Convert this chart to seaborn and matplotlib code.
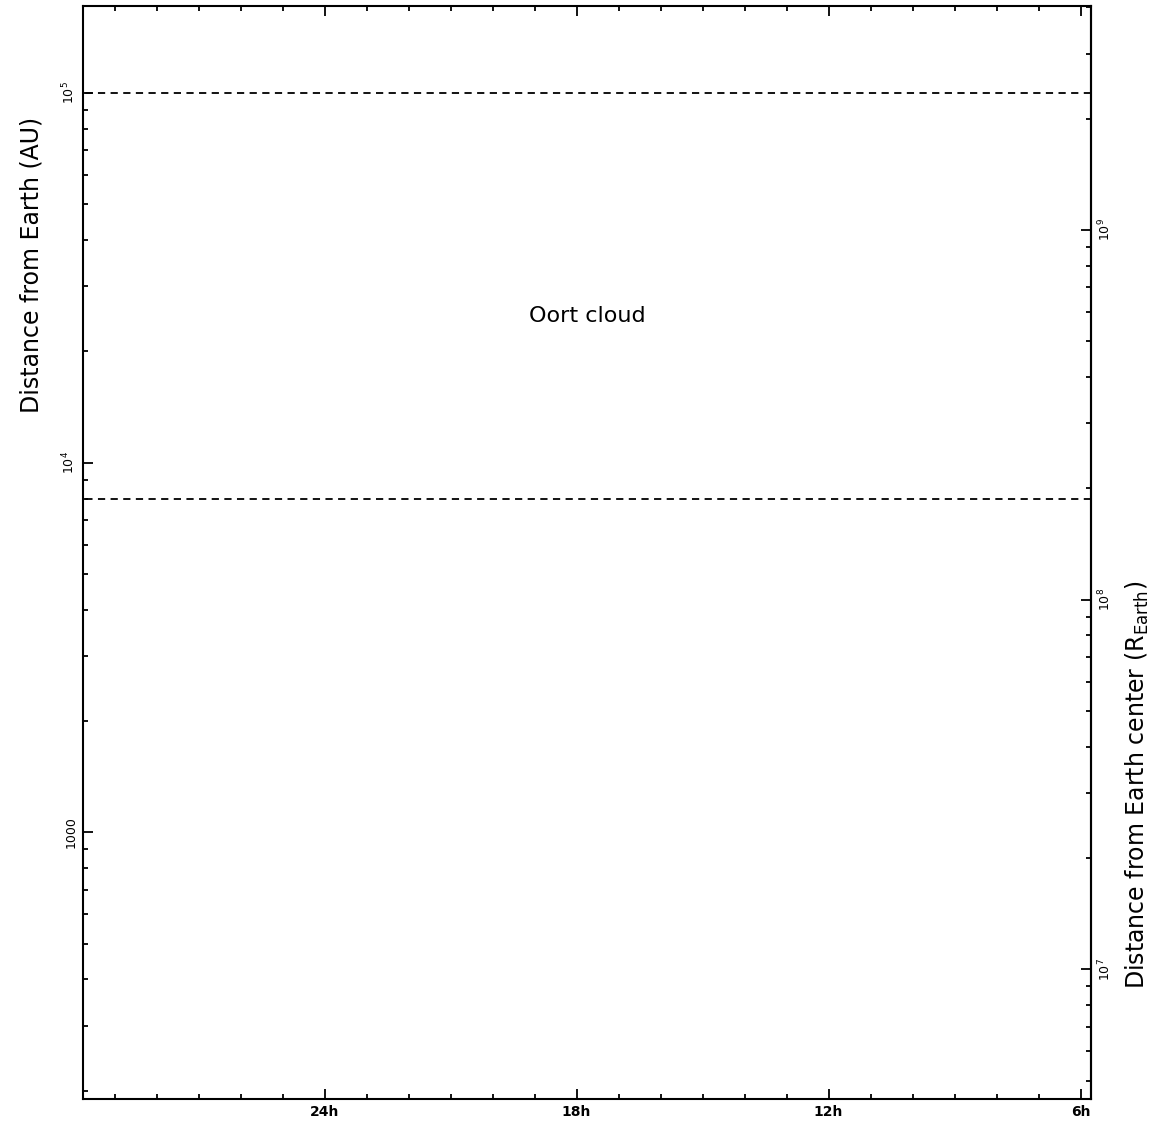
import numpy as np
import pandas as pd
import seaborn as sns
import matplotlib
matplotlib.use("Agg")
import matplotlib.pyplot as plt
from matplotlib.ticker import FixedLocator, MultipleLocator, FuncFormatter, LogLocator, NullFormatter

# data
ra_limits = [29.75, 5.75]          # hours, axis runs right-to-left
dist_limits = [190.0, 1.72e5]      # AU
oort_bounds = [8000.0, 1.0e5]      # AU, inner / outer edge
region_name = "Oort cloud"
region_pos = [17.75, 25000.0]      # hours, AU
ra_major = [24, 18, 12, 6]
au_major = [1e3, 1e4, 1e5]
re_major = [1e7, 1e8, 1e9]
au_in_rearth = 23455.0

sns.set_style("ticks")
plt.rcParams['font.family'] = ['DejaVu Sans']
for k in ["text.color", "axes.labelcolor", "xtick.color", "ytick.color", "axes.edgecolor"]:
    plt.rcParams[k] = "black"

fig = plt.figure(figsize=(11.57, 11.24), dpi=100)
ax = fig.add_axes([83 / 1157, 1 - 1099 / 1124, 1008 / 1157, 1093 / 1124])

rows = []
for b in oort_bounds:
    for h in ra_limits:
        rows.append({"ra": h, "dist": b, "edge": str(b)})
df = pd.DataFrame(rows)
sns.lineplot(data=df, x="ra", y="dist", units="edge", estimator=None,
             color="black", lw=1.3, linestyle=(0, (4, 3)), ax=ax, legend=False)

ax.set_yscale("log")
ax.set_xlim(ra_limits)
ax.set_ylim(dist_limits)

ax.text(region_pos[0], region_pos[1], region_name, ha="center", va="center", fontsize=16)

# x axis: hours
ax.xaxis.set_major_locator(FixedLocator(ra_major))
ax.xaxis.set_minor_locator(MultipleLocator(1))
ax.xaxis.set_major_formatter(FuncFormatter(lambda v, p: f"{int(round(v))}h"))
ax.set_xlabel("")
ax.set_ylabel("")

def au_fmt(v, p):
    e = int(round(np.log10(v)))
    if e == 3:
        return "1000"
    return f"$10^{{{e}}}$"

ax.yaxis.set_major_locator(FixedLocator(au_major))
ax.yaxis.set_minor_locator(LogLocator(base=10, subs=np.arange(2, 10)))
ax.yaxis.set_major_formatter(FuncFormatter(au_fmt))
ax.yaxis.set_minor_formatter(NullFormatter())

ax.tick_params(which="both", direction="in", top=True, right=False, width=1.3)
ax.tick_params(which="major", length=7.5)
ax.tick_params(which="minor", length=3.8)
ax.tick_params(axis="x", labelsize=10, pad=4)
ax.tick_params(axis="y", labelsize=9, labelrotation=90, pad=4)
for lab in ax.get_xticklabels():
    lab.set_fontweight("bold")
for lab in ax.get_yticklabels():
    lab.set_va("center")
for s in ax.spines.values():
    s.set_linewidth(1.5)
    s.set_visible(True)

# right axis: Earth radii
sec = ax.secondary_yaxis("right", functions=(lambda a: a * au_in_rearth,
                                              lambda r: r / au_in_rearth))
sec.yaxis.set_major_locator(FixedLocator(re_major))
sec.yaxis.set_minor_locator(LogLocator(base=10, subs=np.arange(2, 10)))
sec.yaxis.set_major_formatter(FuncFormatter(lambda v, p: f"$10^{{{int(round(np.log10(v)))}}}$"))
sec.yaxis.set_minor_formatter(NullFormatter())
sec.tick_params(which="both", direction="in", width=1.3)
sec.tick_params(which="major", length=7.5)
sec.tick_params(which="minor", length=3.8)
sec.tick_params(axis="y", labelsize=9, labelrotation=90, pad=4)
for lab in sec.get_yticklabels():
    lab.set_va("center")
sec.spines["right"].set_linewidth(1.5)

fig.text(32 / 1157, 1 - 265 / 1124, "Distance from Earth (AU)", rotation=90,
         ha="center", va="center", fontsize=17)
fig.text(1137 / 1157, 1 - 785 / 1124, r"Distance from Earth center (R$_{\mathrm{Earth}}$)",
         rotation=90, ha="center", va="center", fontsize=17)

fig.savefig("out.png", dpi=100)
